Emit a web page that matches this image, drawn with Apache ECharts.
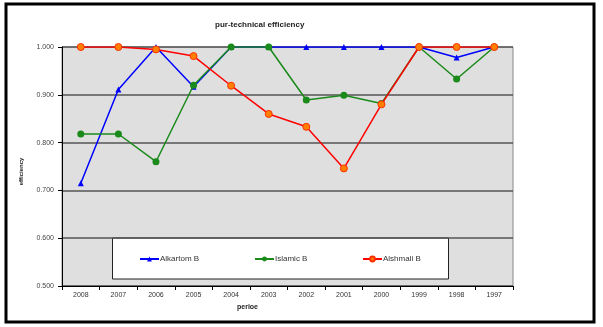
<!DOCTYPE html>
<html><head><meta charset="utf-8">
<script src="https://cdn.jsdelivr.net/npm/echarts@6/dist/echarts.min.js"></script>
<style>html,body{margin:0;padding:0;background:#fff}#c{width:603px;height:327px}</style>
</head><body><div id="c"></div>
<script>
const categories = ['2008','2007','2006','2005','2004','2003','2002','2001','2000','1999','1998','1997'];
const alkartom = [0.715,0.911,1.000,0.917,1.000,1.000,1.000,1.000,1.000,1.000,0.978,1.000];
const islamic  = [0.818,0.818,0.760,0.920,1.000,1.000,0.889,0.899,0.882,1.000,0.933,1.000];
const alshmali = [1.000,1.000,0.995,0.981,0.919,0.860,0.833,0.746,0.880,1.000,1.000,1.000];
const seriesNames = ['Alkartom B','Islamic B','Alshmali B'];
const yTicks = [0.5,0.6,0.7,0.8,0.9,1.0];

const chart = echarts.init(document.getElementById('c'), null, {renderer:'canvas'});
const font = 'Liberation Sans, Arial, sans-serif';
const legendLeft = [139, 254, 362];
chart.setOption({
  animation:false,
  backgroundColor:'#fff',
  title:{text:'pur-technical efficiency', left:210, top:16,
    textStyle:{fontSize:8, fontWeight:'bold', color:'#222', fontFamily:font}},
  grid:{left:62, right:90, top:47, bottom:41, show:true, backgroundColor:'#dfdfdf', borderColor:'#888', borderWidth:1},
  xAxis:{type:'category', data:categories, boundaryGap:true,
    name:'perioe', nameLocation:'middle', nameGap:17,
    nameTextStyle:{fontSize:7, fontWeight:'bold', color:'#222', fontFamily:font, padding:[0,80,0,0]},
    axisLine:{lineStyle:{color:'#000', width:1}},
    axisTick:{show:true, length:4, lineStyle:{color:'#000'}},
    axisLabel:{fontSize:7, color:'#333', fontFamily:font, margin:6}},
  yAxis:{type:'value', min:yTicks[0], max:yTicks[yTicks.length-1], interval:0.1,
    name:'efficiency', nameLocation:'middle', nameGap:38, nameRotate:90,
    nameTextStyle:{fontSize:6, fontWeight:'bold', color:'#222', fontFamily:font, padding:[0,0,0,-10]},
    axisLine:{show:true, lineStyle:{color:'#000', width:1}},
    axisTick:{show:true, length:4, lineStyle:{color:'#000'}},
    axisLabel:{fontSize:7, color:'#444', fontFamily:font, margin:8, formatter:v=>v.toFixed(3)},
    splitLine:{lineStyle:{color:'#555', width:1.5}}},
  legend: seriesNames.map((n,i)=>({data:[n], left:legendLeft[i], top:255, padding:0,
    itemWidth:19, itemHeight:6, z:100,
    textStyle:{fontSize:8, color:'#333', fontFamily:font, padding:[0,0,0,-4]}})),
  graphic:[
    {type:'rect', shape:{x:6,y:4,width:588,height:318},
     style:{fill:'none', stroke:'#000', lineWidth:3}},
    {type:'rect', shape:{x:112.5,y:238,width:336,height:41},
     style:{fill:'#fff', stroke:'#222', lineWidth:1}}
  ],
  series:[
    {name:seriesNames[0], type:'line', data:alkartom, symbol:'triangle', symbolSize:6,
     lineStyle:{color:'#0000ff', width:1.5}, itemStyle:{color:'#0000ff'}, z:3},
    {name:seriesNames[1], type:'line', data:islamic, symbol:'circle', symbolSize:7,
     lineStyle:{color:'#1a8a1a', width:1.5}, itemStyle:{color:'#1a8a1a'}, z:4},
    {name:seriesNames[2], type:'line', data:alshmali, symbol:'circle', symbolSize:7,
     lineStyle:{color:'#ff0000', width:1.5}, itemStyle:{color:'#ff8000', borderColor:'#ff3000', borderWidth:1}, z:5}
  ]
});
</script></body></html>
